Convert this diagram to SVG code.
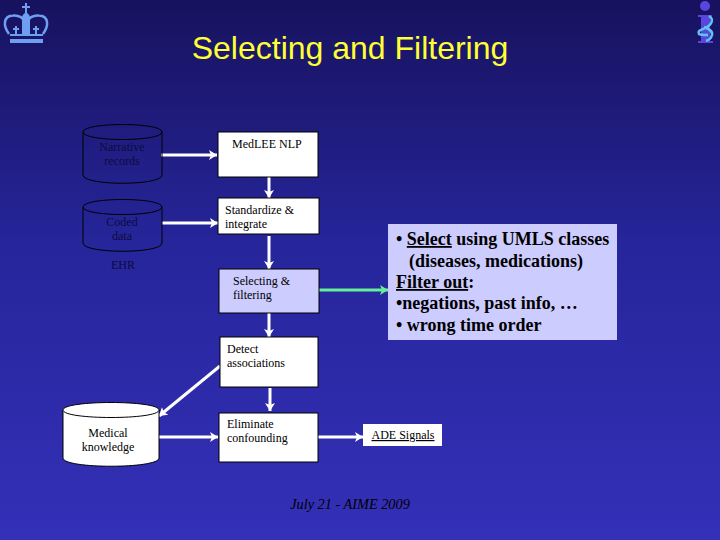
<svg xmlns="http://www.w3.org/2000/svg" width="720" height="540" viewBox="0 0 720 540">
<style>
text{font-family:"Liberation Serif","Times New Roman",serif}
.t{font-size:12px;fill:#000}
.d{font-size:12px;fill:#0b0b40}
.box{fill:#fff;stroke:#000;stroke-width:1}
.sel{fill:#ccccff;stroke:#000;stroke-width:1}
.cyl{fill:none;stroke:#000;stroke-width:1}
.cylw{fill:#fff;stroke:#000;stroke-width:1}
.c{stroke:#fff;stroke-width:3;fill:none}
.p{font-size:18px;font-weight:bold;fill:#000}
.crown{fill:#6f9ff0}
</style>
<defs>
<linearGradient id="bg" x1="0" y1="0" x2="0" y2="1"><stop offset="0" stop-color="#17125e"/><stop offset="0.45" stop-color="#26259a"/><stop offset="1" stop-color="#3430b8"/></linearGradient>
<marker id="a" markerUnits="userSpaceOnUse" markerWidth="9" markerHeight="10" refX="8" refY="5" orient="auto"><path d="M0 0L8 5L0 10L2 5Z" fill="#fff"/></marker>
<marker id="g" markerUnits="userSpaceOnUse" markerWidth="9" markerHeight="10" refX="8" refY="5" orient="auto"><path d="M0 0L8 5L0 10L2 5Z" fill="#66ee99"/></marker>
</defs>
<rect width="720" height="540" fill="url(#bg)"/>
<g id="crown-logo">
<path d="M25 3h2v3h3v2h-3v5c2 1 3 3 3 5v16h-8v-16c0-2 1-4 3-5v-5h-3v-2h3z" class="crown"/>
<path d="M9 34C3 26 3 16 13 15.500C19 15 24 18 25 23M43 34C49 26 49 16 39 15.500C33 15 28 18 27 23" fill="none" stroke="#6f9ff0" stroke-width="2.500"/>
<path class="crown" d="M15 26h2v2h2v2h-2v4h-2v-4h-2v-2h2zM35 26h2v2h2v2h-2v4h-2v-4h-2v-2h2z"/>
<rect class="crown" x="10" y="34" width="33" height="2"/><rect class="crown" x="10" y="39" width="33" height="4"/>
</g>
<g id="i-logo">
<circle cx="705" cy="6" r="5" fill="#5a45e0"/>
<path d="M698 15h14v2h-2v24h3v2h-15v-2h3v-24h-3z" fill="#5a45e0"/>
<path d="M709 16c5 3 3 8-2 11s-10 3-8 7c1 1 6 1 9 1M704 27c5 2 9 4 8 8s-3 5-6 6" fill="none" stroke="#5fc5ee" stroke-width="2.500"/>
</g>
<text id="title" x="350" y="59" text-anchor="middle" font-size="32" fill="#ffff33" style="font-family:'Liberation Sans',Arial,sans-serif">Selecting and Filtering</text>
<g id="connectors">
<path class="c" d="M161 155H217" marker-end="url(#a)"/>
<path class="c" d="M162 223H218" marker-end="url(#a)"/>
<path class="c" d="M269 177V198" marker-end="url(#a)"/>
<path class="c" d="M269 236V269" marker-end="url(#a)"/>
<path class="c" d="M269 312V337" marker-end="url(#a)"/>
<path class="c" d="M270 388V411" marker-end="url(#a)"/>
<path class="c" d="M220 366L159 416" marker-end="url(#a)"/>
<path class="c" d="M159 437H218" marker-end="url(#a)"/>
<path class="c" d="M318 437H363" marker-end="url(#a)"/>
<path d="M318 290H388" stroke="#66ee99" stroke-width="3" fill="none" marker-end="url(#g)"/>
</g>
<g id="narrative-records">
<path class="cyl" d="M83 132C83 122 162 122 162 132V175C162 186 83 186 83 175ZM83 132C83 142 162 142 162 132"/>
<text class="d" x="122" y="151" text-anchor="middle">Narrative</text><text class="d" x="122" y="165" text-anchor="middle">records</text>
</g>
<g id="coded-data">
<path class="cyl" d="M83 207C83 197 162 197 162 207V243C162 254 83 254 83 243ZM83 207C83 217 162 217 162 207"/>
<text class="d" x="122" y="226" text-anchor="middle">Coded</text><text class="d" x="122" y="240" text-anchor="middle">data</text>
</g>
<text id="ehr" class="d" x="123" y="269" text-anchor="middle">EHR</text>
<g id="medlee"><rect class="box" x="218" y="132" width="100" height="45"/><text class="t" x="232" y="148">MedLEE NLP</text></g>
<g id="standardize"><rect class="box" x="218" y="198" width="101" height="36"/><text class="t" x="225" y="214">Standardize &amp;</text><text class="t" x="225" y="228">integrate</text></g>
<g id="selecting"><rect class="sel" x="219" y="269" width="100" height="44"/><text class="t" x="233" y="285">Selecting &amp;</text><text class="t" x="233" y="299">filtering</text></g>
<g id="detect"><rect class="box" x="220" y="337" width="98" height="50"/><text class="t" x="227" y="353">Detect</text><text class="t" x="227" y="367">associations</text></g>
<g id="eliminate"><rect class="box" x="219" y="413" width="99" height="49"/><text class="t" x="227" y="428">Eliminate</text><text class="t" x="227" y="442">confounding</text></g>
<g id="medical-knowledge">
<path class="cylw" d="M63 410C63 400 159 400 159 410V458C159 469 63 469 63 458Z"/><path class="cylw" d="M63 410C63 420 159 420 159 410"/>
<text class="t" x="108" y="437" text-anchor="middle">Medical</text><text class="t" x="108" y="451" text-anchor="middle">knowledge</text>
</g>
<g id="ade"><rect x="363" y="424" width="79" height="22" fill="#fff"/><text class="t" x="403" y="439" text-anchor="middle" text-decoration="underline">ADE Signals</text></g>
<g id="panel">
<rect x="388" y="224" width="229" height="116" fill="#ccccff"/>
<text class="p" x="396" y="245">• <tspan text-decoration="underline">Select</tspan> using UMLS classes</text>
<text class="p" x="409" y="267">(diseases, medications)</text>
<text class="p" x="396" y="288"><tspan text-decoration="underline">Filter out</tspan>:</text>
<text class="p" x="396" y="309">•negations, past info, …</text>
<text class="p" x="396" y="331">• wrong time order</text>
</g>
<text id="footer" x="350" y="509" text-anchor="middle" font-size="14.300" font-style="italic" fill="#000">July 21 - AIME 2009</text>
</svg>
